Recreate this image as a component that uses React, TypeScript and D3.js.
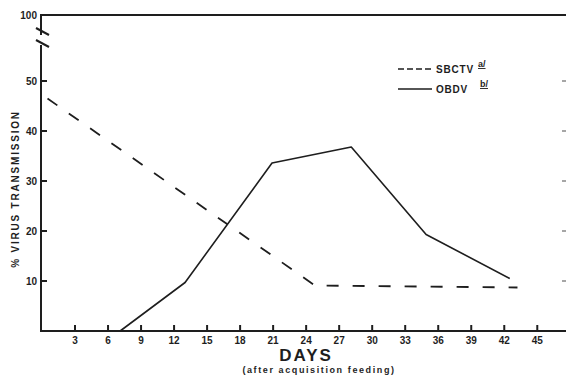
import React, { useEffect, useRef } from 'react';
import * as d3 from 'd3';

// days after acquisition feeding, % transmission
const sbctvDays = [0.5, 24.8, 43.2];
const sbctvValues = [46.5, 9.1, 8.7];
const obdvDays = [7.1, 13, 20.9, 28.1, 34.9, 42.5];
const obdvValues = [0, 9.7, 33.6, 36.8, 19.3, 10.5];

const xTicks = [3, 6, 9, 12, 15, 18, 21, 24, 27, 30, 33, 36, 39, 42, 45];
const yTicks = [10, 20, 30, 40, 50, 100];

const width = 566;
const height = 377;
const ink = '#1e1e1e';
const font = '"Liberation Sans", Arial, sans-serif';

const App: React.FC = () => {
  const svgRef = useRef<SVGSVGElement>(null);

  useEffect(() => {
    if (!svgRef.current) return;
    const svg = d3.select(svgRef.current);
    svg.selectAll('*').remove();

    const x = d3.scaleLinear().domain([0, 47.7]).range([42, 567]);
    // broken axis: 0-50 linear, then jump to 100
    const y = d3.scaleLinear().domain([0, 50, 100]).range([331, 81, 15]);

    const left = x(0) - 1;
    const right = x(47.7);
    const bottom = y(0);

    // frame lines
    svg.append('line')
      .attr('x1', left).attr('x2', right)
      .attr('y1', y(100)).attr('y2', y(100))
      .attr('stroke', ink).attr('stroke-width', 2);
    svg.append('line')
      .attr('x1', left).attr('x2', right)
      .attr('y1', bottom).attr('y2', bottom)
      .attr('stroke', ink).attr('stroke-width', 2);

    // left axis with break
    svg.append('line')
      .attr('x1', left).attr('x2', left)
      .attr('y1', y(100) - 1).attr('y2', 35)
      .attr('stroke', ink).attr('stroke-width', 2);
    svg.append('line')
      .attr('x1', left).attr('x2', left)
      .attr('y1', 45).attr('y2', bottom + 1)
      .attr('stroke', ink).attr('stroke-width', 2);
    [31, 43].forEach(by => {
      svg.append('line')
        .attr('x1', left - 5).attr('x2', left + 8)
        .attr('y1', by - 3).attr('y2', by + 4)
        .attr('stroke', ink).attr('stroke-width', 2);
    });

    // left y ticks
    svg.selectAll('.ytick')
      .data(yTicks.filter(d => d < 100))
      .enter()
      .append('line')
      .attr('x1', left).attr('x2', left + 6)
      .attr('y1', d => y(d)).attr('y2', d => y(d))
      .attr('stroke', ink).attr('stroke-width', 2);

    svg.selectAll('.ylab')
      .data(yTicks)
      .enter()
      .append('text')
      .attr('x', left - 4)
      .attr('y', d => y(d))
      .attr('dy', '0.35em')
      .attr('text-anchor', 'end')
      .attr('font-family', font)
      .attr('font-weight', 'bold')
      .attr('font-size', 10)
      .attr('fill', ink)
      .text(d => d);

    // right axis ticks (axis itself sits at the picture edge)
    svg.selectAll('.rtick')
      .data(yTicks.filter(d => d < 100))
      .enter()
      .append('line')
      .attr('x1', right - 5).attr('x2', right)
      .attr('y1', d => y(d)).attr('y2', d => y(d))
      .attr('stroke', '#888').attr('stroke-width', 1.5);

    // x ticks
    svg.selectAll('.xtick')
      .data(xTicks)
      .enter()
      .append('line')
      .attr('x1', d => x(d)).attr('x2', d => x(d))
      .attr('y1', bottom).attr('y2', bottom - 6)
      .attr('stroke', ink).attr('stroke-width', 2);

    svg.selectAll('.xlab')
      .data(xTicks)
      .enter()
      .append('text')
      .attr('x', d => x(d))
      .attr('y', bottom + 13)
      .attr('text-anchor', 'middle')
      .attr('font-family', font)
      .attr('font-weight', 'bold')
      .attr('font-size', 10)
      .attr('fill', ink)
      .text(d => d);

    // titles
    svg.append('text')
      .attr('x', 306).attr('y', 361)
      .attr('text-anchor', 'middle')
      .attr('font-family', font)
      .attr('font-weight', 'bold')
      .attr('font-size', 17)
      .attr('letter-spacing', 2)
      .attr('fill', ink)
      .text('DAYS');
    svg.append('text')
      .attr('x', 319).attr('y', 373)
      .attr('text-anchor', 'middle')
      .attr('font-family', font)
      .attr('font-weight', 'bold')
      .attr('font-size', 9)
      .attr('letter-spacing', 1.6)
      .attr('fill', ink)
      .text('(after acquisition feeding)');
    svg.append('text')
      .attr('transform', `translate(19, 189) rotate(-90)`)
      .attr('text-anchor', 'middle')
      .attr('font-family', font)
      .attr('font-weight', 'bold')
      .attr('font-size', 10)
      .attr('letter-spacing', 1.8)
      .attr('fill', ink)
      .text('% VIRUS TRANSMISSION');

    // series
    const line = d3.line<[number, number]>()
      .x(d => x(d[0]))
      .y(d => y(d[1]));

    svg.append('path')
      .datum(sbctvDays.map((d, i) => [d, sbctvValues[i]] as [number, number]))
      .attr('d', line)
      .attr('fill', 'none')
      .attr('stroke', ink)
      .attr('stroke-width', 1.8)
      .attr('stroke-dasharray', '12,14');

    svg.append('path')
      .datum(obdvDays.map((d, i) => [d, obdvValues[i]] as [number, number]))
      .attr('d', line)
      .attr('fill', 'none')
      .attr('stroke', ink)
      .attr('stroke-width', 1.6)
      .attr('stroke-linejoin', 'round');

    // legend
    const legend = svg.append('g');
    const items = [
      { label: 'SBCTV', note: 'a/', dash: '6,3', y: 69 },
      { label: 'OBDV', note: 'b/', dash: null, y: 89 },
    ];
    items.forEach(it => {
      legend.append('line')
        .attr('x1', 398).attr('x2', 432)
        .attr('y1', it.y).attr('y2', it.y)
        .attr('stroke', ink).attr('stroke-width', 1.5)
        .attr('stroke-dasharray', it.dash);
      legend.append('text')
        .attr('x', 436).attr('y', it.y + 4)
        .attr('font-family', font)
        .attr('font-weight', 'bold')
        .attr('font-size', 10)
        .attr('letter-spacing', 0.8)
        .attr('fill', ink)
        .text(it.label);
      legend.append('text')
        .attr('x', it.label === 'SBCTV' ? 478 : 480).attr('y', it.y - 2)
        .attr('font-family', font)
        .attr('font-weight', 'bold')
        .attr('font-size', 9)
        .attr('text-decoration', 'underline')
        .attr('fill', ink)
        .text(it.note);
    });
  }, []);

  return (
    <svg
      ref={svgRef}
      width={width}
      height={height}
      style={{ position: 'absolute', left: 0, top: 0, background: '#fff' }}
    />
  );
};

export default App;
